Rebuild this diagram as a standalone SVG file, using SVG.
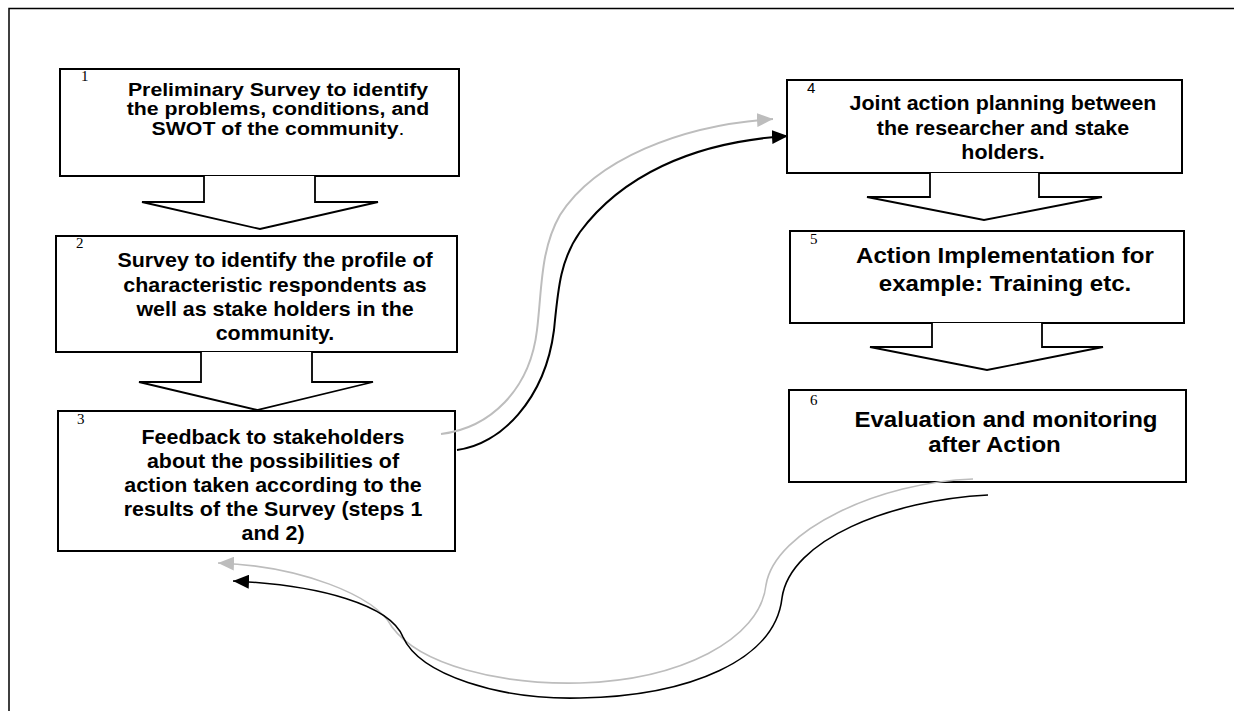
<svg xmlns="http://www.w3.org/2000/svg" width="1234" height="711" viewBox="0 0 1234 711">
<style>
.frame{fill:none;stroke:#000;stroke-width:1.5}
.box{fill:#fff;stroke:#000;stroke-width:2}
.blk{fill:#fff;stroke:#000;stroke-width:1.8;stroke-linejoin:miter}
.t{font-family:"Liberation Sans",Arial,sans-serif;font-weight:bold;font-size:20.4px;fill:#000;text-anchor:middle}
.ts{font-size:19px}
.tl{font-size:22.9px}
.num{font-family:"Liberation Serif","Times New Roman",serif;font-size:15px;fill:#000}
.nums{font-family:"Liberation Sans",Arial,sans-serif;font-size:15px;fill:#000}
.cb{fill:none;stroke:#000;stroke-width:2}
.cg{fill:none;stroke:#bdbdbd;stroke-width:2}
.thin{stroke-width:1.6}
</style>
<defs>
<marker id="ab" viewBox="0 0 16 14" refX="16" refY="7" markerWidth="16" markerHeight="14" markerUnits="userSpaceOnUse" orient="auto"><path d="M0,0 L16,7 L0,14 z" fill="#000"/></marker>
<marker id="ag" viewBox="0 0 16 14" refX="16" refY="7" markerWidth="16" markerHeight="14" markerUnits="userSpaceOnUse" orient="auto"><path d="M0,0 L16,7 L0,14 z" fill="#bdbdbd"/></marker>
</defs>
<rect width="1234" height="711" fill="#fff"/>
<rect class="frame" x="9" y="8.5" width="1300" height="800"/>

<g id="node1">
<rect class="box" x="60" y="69" width="399" height="107"/>
<text class="num" x="81" y="81">1</text>
<text class="t ts" transform="translate(278,0) scale(1.12,1)"><tspan x="0" y="96">Preliminary Survey to identify</tspan><tspan x="0" y="115.5">the problems, conditions, and</tspan><tspan x="0" y="135">SWOT of the community<tspan font-weight="normal">.</tspan></tspan></text>
</g>
<g id="arrow1"><path class="blk" d="M204,176 L204,202 L142,202 L260,229 L378,202 L315,202 L315,176"/></g>

<g id="node2">
<rect class="box" x="56" y="236" width="401" height="116"/>
<text class="num" x="76" y="248">2</text>
<text class="t" transform="translate(275,0) scale(1.05,1)"><tspan x="0" y="267">Survey to identify the profile of</tspan><tspan x="0" y="292">characteristic respondents as</tspan><tspan x="0" y="316">well as stake holders in the</tspan><tspan x="0" y="340">community.</tspan></text>
</g>
<g id="arrow2"><path class="blk" d="M201,352 L201,382 L139,382 L257,410 L373,382 L312,382 L312,352"/></g>

<g id="node3">
<rect class="box" x="58" y="411" width="397" height="140"/>
<text class="num" x="77" y="424">3</text>
<text class="t" transform="translate(273,0) scale(1.05,1)"><tspan x="0" y="444">Feedback to stakeholders</tspan><tspan x="0" y="468">about the possibilities of</tspan><tspan x="0" y="492">action taken according to the</tspan><tspan x="0" y="516">results of the Survey (steps 1</tspan><tspan x="0" y="540">and 2)</tspan></text>
</g>

<g id="node4">
<rect class="box" x="787" y="80" width="395" height="93"/>
<text class="nums" x="807" y="93">4</text>
<text class="t" transform="translate(1003,0) scale(1.05,1)"><tspan x="0" y="110">Joint action planning between</tspan><tspan x="0" y="135">the researcher and stake</tspan><tspan x="0" y="159">holders.</tspan></text>
</g>
<g id="arrow3"><path class="blk" d="M930,173 L930,197 L867,197 L984,220 L1102,197 L1039,197 L1039,173"/></g>

<g id="node5">
<rect class="box" x="790" y="231" width="394" height="92"/>
<text class="num" x="810" y="244">5</text>
<text class="t tl" transform="translate(1005,0) scale(1.05,1)"><tspan x="0" y="263">Action Implementation for</tspan><tspan x="0" y="291">example: Training etc.</tspan></text>
</g>
<g id="arrow4"><path class="blk" d="M932,323 L932,347 L870,347 L987,370 L1103,347 L1042,347 L1042,323"/></g>

<g id="node6">
<rect class="box" x="789" y="390" width="397" height="92"/>
<text class="num" x="810" y="405">6</text>
<text class="t tl" transform="translate(1006,0) scale(1.05,1)"><tspan x="0" y="427">Evaluation and monitoring</tspan><tspan x="-11" y="452">after Action</tspan></text>
</g>

<g id="connectors">
<path class="cg" d="M441,434 C490,428 530,390 537,330 C542,290 540,250 560,215 C595,160 680,125 773,119" marker-end="url(#ag)"/>
<path class="cb" d="M457,450 C500,445 545,400 554,330 C558,290 560,260 580,232 C620,178 690,142 788,136" marker-end="url(#ab)"/>
<path class="cg thin" d="M973,479 C880,482 775,530 766,585 C760,640 680,680 580,683 C500,685 420,665 392,627 C375,595 300,566 218,563" marker-end="url(#ag)"/>
<path class="cb thin" d="M988,495 C890,500 790,540 782,598 C775,660 690,696 580,698 C500,700 420,675 403,637 C390,605 320,585 233,581" marker-end="url(#ab)"/>
</g>
</svg>
